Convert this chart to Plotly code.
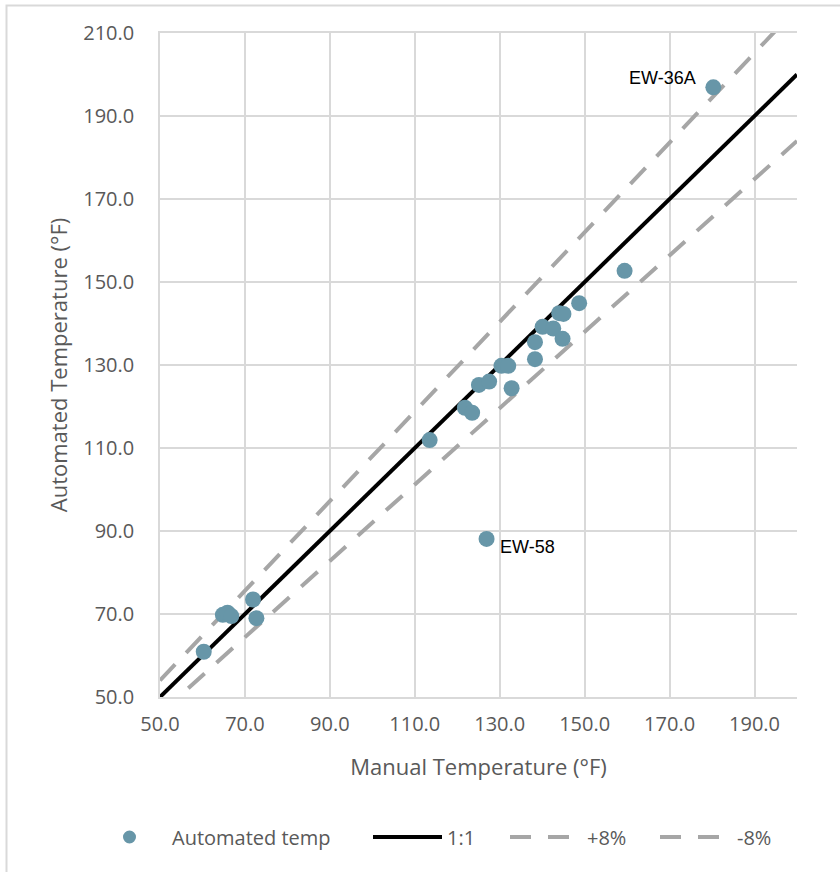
import plotly.graph_objects as go

# Paired readings: manual vs automated temperature (°F)
manual_temp = [60.3, 64.8, 65.9, 66.8, 71.9, 72.7, 113.5, 121.8, 123.5, 125.1,
               127.5, 132.8, 130.4, 132.0, 138.3, 138.3, 140.1, 142.6, 144.8,
               144.0, 145.0, 148.7, 159.4, 180.3, 126.9]
automated_temp = [60.9, 69.8, 70.3, 69.5, 73.5, 69.0, 111.9, 119.7, 118.5, 125.2,
                  126.0, 124.4, 129.8, 129.8, 131.4, 135.5, 139.2, 138.8, 136.3,
                  142.5, 142.3, 144.9, 152.7, 196.9, 88.1]

# Points called out by name
callout_names = ["EW-36A", "EW-58"]
callout_x = [180.3, 126.9]
callout_y = [196.9, 88.1]

# Reference lines: 1:1 and ±8 %
line_x = [50, 200]
line_names = ["1:1", "+8%", "-8%"]
line_factors = [1.0, 1.08, 0.92]

x_ticks = [50, 70, 90, 110, 130, 150, 170, 190]
y_ticks = [50, 70, 90, 110, 130, 150, 170, 190, 210]

MARKER = "#6796a8"
GREY_DASH = "#a6a6a6"
GRID = "#d9d9d9"
TEXT = "#595959"
FONT = "Open Sans"

fig = go.Figure()

line_styles = {
    "1:1": dict(color="black", width=4),
    "+8%": dict(color=GREY_DASH, width=4, dash="22px,16px"),
    "-8%": dict(color=GREY_DASH, width=4, dash="22px,16px"),
}
for name, k in zip(line_names, line_factors):
    fig.add_trace(go.Scatter(
        x=line_x, y=[v * k for v in line_x], mode="lines", name=name,
        line=line_styles[name], showlegend=False, hoverinfo="skip"))

fig.add_trace(go.Scatter(
    x=manual_temp, y=automated_temp, mode="markers", name="Automated temp",
    marker=dict(color=MARKER, size=16), showlegend=False))

# Callout labels
fig.add_annotation(x=callout_x[0], y=callout_y[0], text=callout_names[0],
                   showarrow=False, xanchor="right", yanchor="middle",
                   xshift=-15, yshift=9,
                   font=dict(family="Liberation Sans", size=18, color="black"))
fig.add_annotation(x=callout_x[1], y=callout_y[1], text=callout_names[1],
                   showarrow=False, xanchor="left", yanchor="middle",
                   xshift=11, yshift=-8,
                   font=dict(family="Liberation Sans", size=18, color="black"))

# Plot-area geometry (pixels) used for the outer frame and the legend row
W, H = 840, 872
L, R, T, B = 160, 43, 33, 175
pw, ph = W - L - R, H - T - B


def px(x):
    return (x - L) / pw


def py(y):
    return (H - B - y) / ph


# Light chart frame
fig.add_shape(type="rect", xref="paper", yref="paper",
              x0=px(6.5), x1=px(860), y0=py(5.5), y1=py(890),
              line=dict(color=GRID, width=2), fillcolor="rgba(0,0,0,0)",
              layer="below")

# Legend row
ly = py(837)
fig.add_shape(type="circle", xref="paper", yref="paper",
              x0=px(123), x1=px(136), y0=py(830.5), y1=py(843.5),
              fillcolor=MARKER, line=dict(width=0))
fig.add_shape(type="line", xref="paper", yref="paper",
              x0=px(373), x1=px(442), y0=ly, y1=ly,
              line=dict(color="black", width=4))
fig.add_shape(type="line", xref="paper", yref="paper",
              x0=px(510), x1=px(569), y0=ly, y1=ly,
              line=dict(color=GREY_DASH, width=4, dash="21px,17px"))
fig.add_shape(type="line", xref="paper", yref="paper",
              x0=px(660), x1=px(719), y0=ly, y1=ly,
              line=dict(color=GREY_DASH, width=4, dash="21px,17px"))
legend_labels = ["Automated temp"] + line_names
legend_text_x = [170, 445, 585, 735]
for lab, tx in zip(legend_labels, legend_text_x):
    fig.add_annotation(xref="paper", yref="paper", x=px(tx), y=ly,
                       text=lab, showarrow=False, xanchor="left",
                       yanchor="middle",
                       font=dict(family=FONT, size=20, color=TEXT))

fig.update_xaxes(
    range=[50, 200], tickvals=x_ticks, ticktext=[f"{v:.1f}" for v in x_ticks],
    showgrid=True, gridcolor=GRID, gridwidth=1.5,
    showline=True, linecolor=GRID, linewidth=1.5, mirror=True,
    zeroline=False, ticks="", ticklabelstandoff=8, automargin=False,
    tickfont=dict(family=FONT, size=20, color=TEXT),
    title=dict(text="Manual Temperature (°F)", standoff=24,
               font=dict(family=FONT, size=22, color=TEXT)))
fig.update_yaxes(
    range=[50, 210], tickvals=y_ticks, ticktext=[f"{v:.1f}" for v in y_ticks],
    showgrid=True, gridcolor=GRID, gridwidth=1.5,
    showline=True, linecolor=GRID, linewidth=1.5,
    zeroline=False, ticks="", ticklabelstandoff=20, automargin=False,
    tickfont=dict(family=FONT, size=20, color=TEXT),
    title=dict(text="Automated Temperature (°F)", standoff=10,
               font=dict(family=FONT, size=22, color=TEXT)))

fig.update_layout(
    width=W, height=H,
    margin=dict(l=L, r=R, t=T, b=B),
    paper_bgcolor="white", plot_bgcolor="white",
    showlegend=False,
)

fig.write_html("out.html")
